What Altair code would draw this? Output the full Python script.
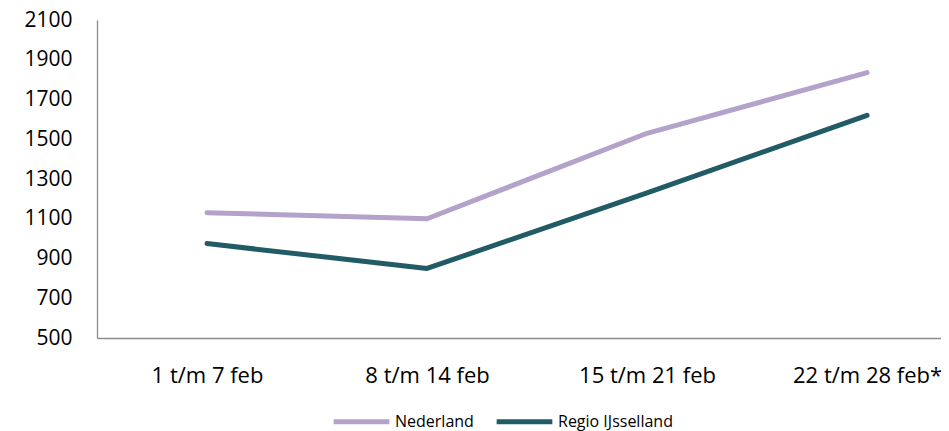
import altair as alt
import pandas as pd

categories = ["1 t/m 7 feb", "8 t/m 14 feb", "15 t/m 21 feb", "22 t/m 28 feb*"]
nederland = [1130, 1100, 1530, 1835]
regio = [975, 850, 1230, 1620]
series_names = ["Nederland", "Regio IJsselland"]
series_colors = ["#B3A2CA", "#215B66"]
y_ticks = [500, 700, 900, 1100, 1300, 1500, 1700, 1900, 2100]

rows = []
for i, c in enumerate(categories):
    rows.append({"week": c, "serie": series_names[0], "waarde": nederland[i], "idx": i})
    rows.append({"week": c, "serie": series_names[1], "waarde": regio[i], "idx": i})
df = pd.DataFrame(rows)

FONT = "Open Sans"
label_expr = "[" + ",".join("'" + c + "'" for c in categories) + "][datum.value]"

chart = alt.Chart(df).mark_line(strokeWidth=5, strokeCap="round", strokeJoin="round").encode(
    x=alt.X("idx:Q",
            scale=alt.Scale(domain=[-0.5, 3.336], nice=False, zero=False),
            axis=alt.Axis(title=None, values=[0, 1, 2, 3], labelExpr=label_expr,
                          labelAngle=0, ticks=False, labelPadding=27,
                          labelFontSize=22, labelFont=FONT, labelColor="#000000",
                          labelFlush=False, labelOverlap=False,
                          domainColor="#8C8C8C", domainWidth=1.3, grid=False)),
    y=alt.Y("waarde:Q",
            scale=alt.Scale(domain=[500, 2100], nice=False, zero=False),
            axis=alt.Axis(title=None, values=y_ticks, format="d", ticks=False, labelPadding=25,
                          labelFontSize=21, labelFont=FONT, labelColor="#000000",
                          labelFlush=False,
                          domainColor="#8C8C8C", domainWidth=1.3, grid=False)),
    color=alt.Color("serie:N",
                    scale=alt.Scale(domain=series_names, range=series_colors),
                    legend=alt.Legend(title=None, orient="none", legendX=234, legendY=371,
                                      direction="horizontal", symbolType="stroke",
                                      symbolSize=3100, symbolStrokeWidth=5,
                                      labelFont=FONT, labelFontSize=16, labelColor="#000000",
                                      labelOffset=3, columnPadding=12)),
    detail="serie:N",
).properties(
    width=844, height=318,
    autosize="none",
    padding={"left": 89, "top": 12, "right": 0, "bottom": 93},
).configure_view(stroke=None)

chart.save("out.html", embed_options={"renderer": "svg", "actions": False})
